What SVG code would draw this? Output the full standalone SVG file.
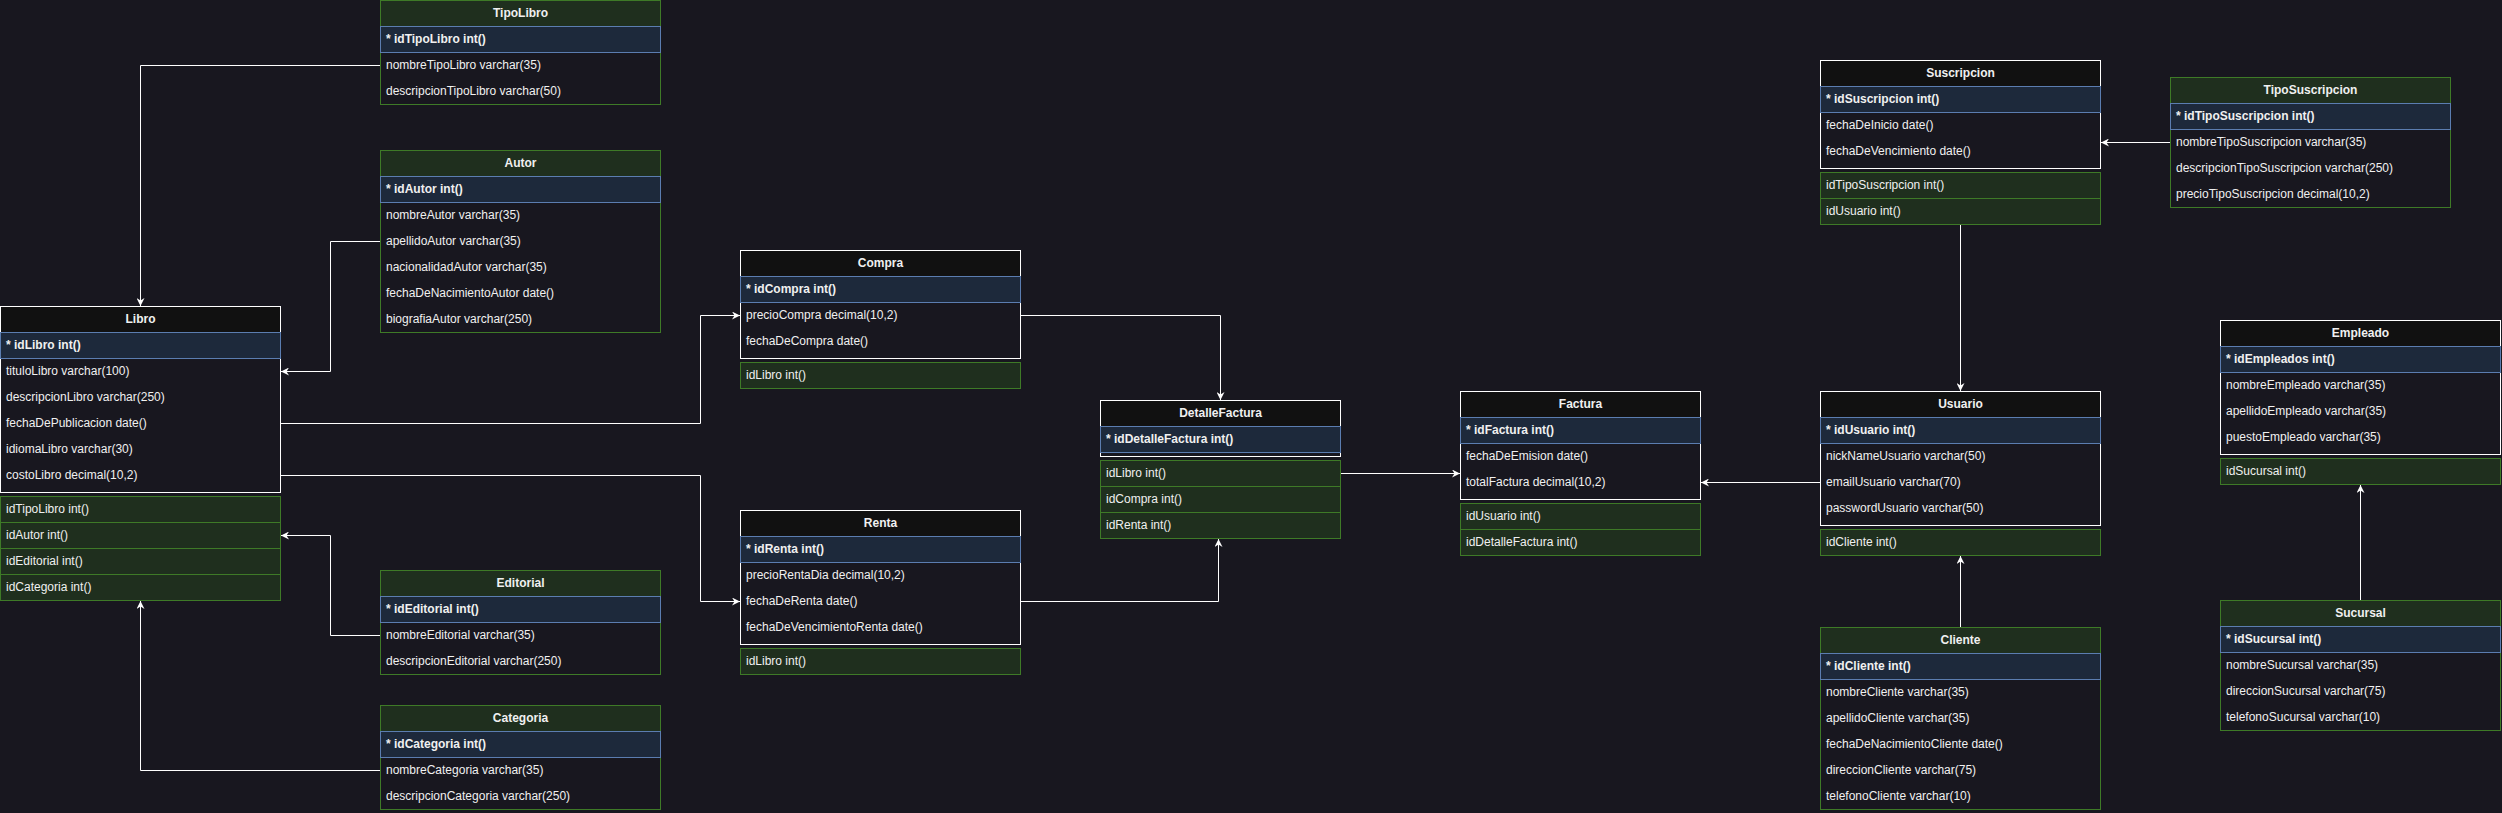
<svg xmlns="http://www.w3.org/2000/svg" width="2502" height="813" viewBox="0 0 2502 813">
<style>
.bg{fill:#18171f}
.tw{fill:#18171f;stroke:#ffffff;stroke-width:1}
.hb{fill:#111111;stroke:#ffffff;stroke-width:1}
.tg{fill:#18171f;stroke:#3e7a27;stroke-width:1}
.hg{fill:#1f2f1e;stroke:#3e7a27;stroke-width:1}
.pk{fill:#1d293b;stroke:#5b7db0;stroke-width:1}
.fk{fill:#1f2f1e;stroke:#3e7a27;stroke-width:1}
text{font-family:"Liberation Sans",Arial,sans-serif;font-size:12px;fill:#f0f0f0}
.h{text-anchor:middle;font-weight:bold}
.p{font-weight:bold}
.c{fill:none;stroke:#ffffff;stroke-width:1;marker-end:url(#arr)}
</style>
<defs>
<marker id="arr" viewBox="0 0 8 8" refX="8" refY="4" markerWidth="8" markerHeight="8" markerUnits="userSpaceOnUse" orient="auto">
<path d="M8,4 L0,0 L2.5,4 L0,8 Z" fill="#ffffff"/>
</marker>
</defs>
<rect class="bg" x="0" y="0" width="2502" height="813"/>

<g id="connectors">
<path class="c" d="M380,65.5 H140.5 V306"/>
<path class="c" d="M380,241.5 H330.5 V371.5 H281"/>
<path class="c" d="M380,635.5 H330.5 V535.5 H281"/>
<path class="c" d="M380,770.5 H140.5 V601"/>
<path class="c" d="M281,423.5 H700.5 V315.5 H740"/>
<path class="c" d="M281,475.5 H700.5 V601.5 H740"/>
<path class="c" d="M1021,315.5 H1220.5 V400"/>
<path class="c" d="M1021,601.5 H1218.5 V539"/>
<path class="c" d="M1341,473.5 H1460"/>
<path class="c" d="M1820,482.5 H1701"/>
<path class="c" d="M2170,142.5 H2101"/>
<path class="c" d="M1960.5,225 V391"/>
<path class="c" d="M1960.5,627 V556"/>
<path class="c" d="M2360.5,600 V485"/>
</g>

<g id="TipoLibro">
<rect class="tg" x="380.5" y="0.5" width="280" height="104"/>
<rect class="hg" x="380.5" y="0.5" width="280" height="26"/>
<rect class="pk" x="380.5" y="26.5" width="280" height="26"/>
<text class="h" x="520.5" y="17">TipoLibro</text>
<text class="p" x="386" y="43">* idTipoLibro int()</text>
<text x="386" y="69">nombreTipoLibro varchar(35)</text>
<text x="386" y="95">descripcionTipoLibro varchar(50)</text>
</g>

<g id="Autor">
<rect class="tg" x="380.5" y="150.5" width="280" height="182"/>
<rect class="hg" x="380.5" y="150.5" width="280" height="26"/>
<rect class="pk" x="380.5" y="176.5" width="280" height="26"/>
<text class="h" x="520.5" y="167">Autor</text>
<text class="p" x="386" y="193">* idAutor int()</text>
<text x="386" y="219">nombreAutor varchar(35)</text>
<text x="386" y="245">apellidoAutor varchar(35)</text>
<text x="386" y="271">nacionalidadAutor varchar(35)</text>
<text x="386" y="297">fechaDeNacimientoAutor date()</text>
<text x="386" y="323">biografiaAutor varchar(250)</text>
</g>

<g id="Libro">
<rect class="tw" x="0.5" y="306.5" width="280" height="186"/>
<rect class="hb" x="0.5" y="306.5" width="280" height="26"/>
<rect class="pk" x="0.5" y="332.5" width="280" height="26"/>
<text class="h" x="140.5" y="323">Libro</text>
<text class="p" x="6" y="349">* idLibro int()</text>
<text x="6" y="375">tituloLibro varchar(100)</text>
<text x="6" y="401">descripcionLibro varchar(250)</text>
<text x="6" y="427">fechaDePublicacion date()</text>
<text x="6" y="453">idiomaLibro varchar(30)</text>
<text x="6" y="479">costoLibro decimal(10,2)</text>
<rect class="fk" x="0.5" y="496.5" width="280" height="26"/>
<rect class="fk" x="0.5" y="522.5" width="280" height="26"/>
<rect class="fk" x="0.5" y="548.5" width="280" height="26"/>
<rect class="fk" x="0.5" y="574.5" width="280" height="26"/>
<text x="6" y="513">idTipoLibro int()</text>
<text x="6" y="539">idAutor int()</text>
<text x="6" y="565">idEditorial int()</text>
<text x="6" y="591">idCategoria int()</text>
</g>

<g id="Editorial">
<rect class="tg" x="380.5" y="570.5" width="280" height="104"/>
<rect class="hg" x="380.5" y="570.5" width="280" height="26"/>
<rect class="pk" x="380.5" y="596.5" width="280" height="26"/>
<text class="h" x="520.5" y="587">Editorial</text>
<text class="p" x="386" y="613">* idEditorial int()</text>
<text x="386" y="639">nombreEditorial varchar(35)</text>
<text x="386" y="665">descripcionEditorial varchar(250)</text>
</g>

<g id="Categoria">
<rect class="tg" x="380.5" y="705.5" width="280" height="104"/>
<rect class="hg" x="380.5" y="705.5" width="280" height="26"/>
<rect class="pk" x="380.5" y="731.5" width="280" height="26"/>
<text class="h" x="520.5" y="722">Categoria</text>
<text class="p" x="386" y="748">* idCategoria int()</text>
<text x="386" y="774">nombreCategoria varchar(35)</text>
<text x="386" y="800">descripcionCategoria varchar(250)</text>
</g>

<g id="Compra">
<rect class="tw" x="740.5" y="250.5" width="280" height="108"/>
<rect class="hb" x="740.5" y="250.5" width="280" height="26"/>
<rect class="pk" x="740.5" y="276.5" width="280" height="26"/>
<text class="h" x="880.5" y="267">Compra</text>
<text class="p" x="746" y="293">* idCompra int()</text>
<text x="746" y="319">precioCompra decimal(10,2)</text>
<text x="746" y="345">fechaDeCompra date()</text>
<rect class="fk" x="740.5" y="362.5" width="280" height="26"/>
<text x="746" y="379">idLibro int()</text>
</g>

<g id="Renta">
<rect class="tw" x="740.5" y="510.5" width="280" height="134"/>
<rect class="hb" x="740.5" y="510.5" width="280" height="26"/>
<rect class="pk" x="740.5" y="536.5" width="280" height="26"/>
<text class="h" x="880.5" y="527">Renta</text>
<text class="p" x="746" y="553">* idRenta int()</text>
<text x="746" y="579">precioRentaDia decimal(10,2)</text>
<text x="746" y="605">fechaDeRenta date()</text>
<text x="746" y="631">fechaDeVencimientoRenta date()</text>
<rect class="fk" x="740.5" y="648.5" width="280" height="26"/>
<text x="746" y="665">idLibro int()</text>
</g>

<g id="DetalleFactura">
<rect class="tw" x="1100.5" y="400.5" width="240" height="56"/>
<rect class="hb" x="1100.5" y="400.5" width="240" height="26"/>
<rect class="pk" x="1100.5" y="426.5" width="240" height="26"/>
<text class="h" x="1220.5" y="417">DetalleFactura</text>
<text class="p" x="1106" y="443">* idDetalleFactura int()</text>
<rect class="fk" x="1100.5" y="460.5" width="240" height="26"/>
<rect class="fk" x="1100.5" y="486.5" width="240" height="26"/>
<rect class="fk" x="1100.5" y="512.5" width="240" height="26"/>
<text x="1106" y="477">idLibro int()</text>
<text x="1106" y="503">idCompra int()</text>
<text x="1106" y="529">idRenta int()</text>
</g>

<g id="Factura">
<rect class="tw" x="1460.5" y="391.5" width="240" height="108"/>
<rect class="hb" x="1460.5" y="391.5" width="240" height="26"/>
<rect class="pk" x="1460.5" y="417.5" width="240" height="26"/>
<text class="h" x="1580.5" y="408">Factura</text>
<text class="p" x="1466" y="434">* idFactura int()</text>
<text x="1466" y="460">fechaDeEmision date()</text>
<text x="1466" y="486">totalFactura decimal(10,2)</text>
<rect class="fk" x="1460.5" y="503.5" width="240" height="26"/>
<rect class="fk" x="1460.5" y="529.5" width="240" height="26"/>
<text x="1466" y="520">idUsuario int()</text>
<text x="1466" y="546">idDetalleFactura int()</text>
</g>

<g id="Suscripcion">
<rect class="tw" x="1820.5" y="60.5" width="280" height="108"/>
<rect class="hb" x="1820.5" y="60.5" width="280" height="26"/>
<rect class="pk" x="1820.5" y="86.5" width="280" height="26"/>
<text class="h" x="1960.5" y="77">Suscripcion</text>
<text class="p" x="1826" y="103">* idSuscripcion int()</text>
<text x="1826" y="129">fechaDeInicio date()</text>
<text x="1826" y="155">fechaDeVencimiento date()</text>
<rect class="fk" x="1820.5" y="172.5" width="280" height="26"/>
<rect class="fk" x="1820.5" y="198.5" width="280" height="26"/>
<text x="1826" y="189">idTipoSuscripcion int()</text>
<text x="1826" y="215">idUsuario int()</text>
</g>

<g id="TipoSuscripcion">
<rect class="tg" x="2170.5" y="77.5" width="280" height="130"/>
<rect class="hg" x="2170.5" y="77.5" width="280" height="26"/>
<rect class="pk" x="2170.5" y="103.5" width="280" height="26"/>
<text class="h" x="2310.5" y="94">TipoSuscripcion</text>
<text class="p" x="2176" y="120">* idTipoSuscripcion int()</text>
<text x="2176" y="146">nombreTipoSuscripcion varchar(35)</text>
<text x="2176" y="172">descripcionTipoSuscripcion varchar(250)</text>
<text x="2176" y="198">precioTipoSuscripcion decimal(10,2)</text>
</g>

<g id="Usuario">
<rect class="tw" x="1820.5" y="391.5" width="280" height="134"/>
<rect class="hb" x="1820.5" y="391.5" width="280" height="26"/>
<rect class="pk" x="1820.5" y="417.5" width="280" height="26"/>
<text class="h" x="1960.5" y="408">Usuario</text>
<text class="p" x="1826" y="434">* idUsuario int()</text>
<text x="1826" y="460">nickNameUsuario varchar(50)</text>
<text x="1826" y="486">emailUsuario varchar(70)</text>
<text x="1826" y="512">passwordUsuario varchar(50)</text>
<rect class="fk" x="1820.5" y="529.5" width="280" height="26"/>
<text x="1826" y="546">idCliente int()</text>
</g>

<g id="Empleado">
<rect class="tw" x="2220.5" y="320.5" width="280" height="134"/>
<rect class="hb" x="2220.5" y="320.5" width="280" height="26"/>
<rect class="pk" x="2220.5" y="346.5" width="280" height="26"/>
<text class="h" x="2360.5" y="337">Empleado</text>
<text class="p" x="2226" y="363">* idEmpleados int()</text>
<text x="2226" y="389">nombreEmpleado varchar(35)</text>
<text x="2226" y="415">apellidoEmpleado varchar(35)</text>
<text x="2226" y="441">puestoEmpleado varchar(35)</text>
<rect class="fk" x="2220.5" y="458.5" width="280" height="26"/>
<text x="2226" y="475">idSucursal int()</text>
</g>

<g id="Cliente">
<rect class="tg" x="1820.5" y="627.5" width="280" height="182"/>
<rect class="hg" x="1820.5" y="627.5" width="280" height="26"/>
<rect class="pk" x="1820.5" y="653.5" width="280" height="26"/>
<text class="h" x="1960.5" y="644">Cliente</text>
<text class="p" x="1826" y="670">* idCliente int()</text>
<text x="1826" y="696">nombreCliente varchar(35)</text>
<text x="1826" y="722">apellidoCliente varchar(35)</text>
<text x="1826" y="748">fechaDeNacimientoCliente date()</text>
<text x="1826" y="774">direccionCliente varchar(75)</text>
<text x="1826" y="800">telefonoCliente varchar(10)</text>
</g>

<g id="Sucursal">
<rect class="tg" x="2220.5" y="600.5" width="280" height="130"/>
<rect class="hg" x="2220.5" y="600.5" width="280" height="26"/>
<rect class="pk" x="2220.5" y="626.5" width="280" height="26"/>
<text class="h" x="2360.5" y="617">Sucursal</text>
<text class="p" x="2226" y="643">* idSucursal int()</text>
<text x="2226" y="669">nombreSucursal varchar(35)</text>
<text x="2226" y="695">direccionSucursal varchar(75)</text>
<text x="2226" y="721">telefonoSucursal varchar(10)</text>
</g>
</svg>
